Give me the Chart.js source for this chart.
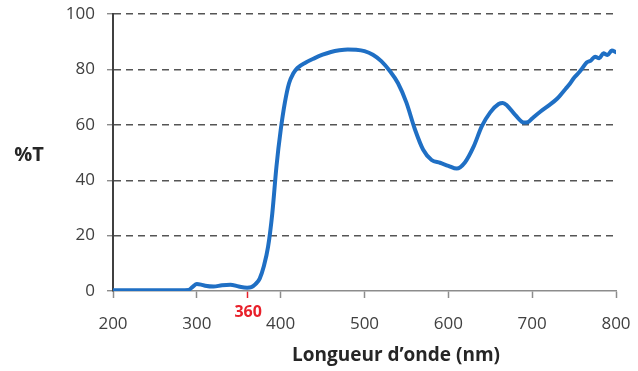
<!DOCTYPE html>
<html>
<head>
<meta charset="utf-8">
<script src="https://cdn.jsdelivr.net/npm/chart.js@4/dist/chart.umd.min.js"></script>
<style>html,body{margin:0;padding:0;background:#fff}</style>
</head>
<body>
<canvas id="myChart" width="638" height="371"></canvas>
<script>
// spectre de transmission
const longueurs = [200,220,240,260,280,290,295,300,305,310,320,330,340,350,360,365,370,375,380,385,390,395,400,405,410,415,420,430,440,450,460,470,480,490,500,510,520,530,540,550,560,570,580,590,600,610,620,630,640,650,660,665,670,680,690,695,700,710,720,730,740,745,750,755,760,765,770,775,780,785,790,795,800];
const transmission = [0.3,0.3,0.3,0.3,0.3,0.4,1.5,2.5,2.3,1.9,1.6,2.1,2.3,1.6,1.2,1.4,2.5,4.5,9,16,28,45,58,68,75,78.5,80.5,82.5,84,85.3,86.3,86.9,87.2,87.1,86.6,85.3,83,79.5,75,68,58.5,51,47.3,46.3,45.2,44.2,46.5,52,59.5,64.5,67.5,67.9,67,63.5,60.8,61,62.3,64.8,67,69.5,73,74.8,77,78.6,80.5,82.5,83.2,84.6,84,85.8,85.2,86.8,86.2];
const ticksX = [200,300,400,500,600,700,800];
const repere = 360;

const textes = {
  id: 'textes',
  afterDraw(chart) {
    const c = chart.ctx;
    const x = chart.scales.x;
    c.save();
    c.fillStyle = '#e8202a';
    c.font = 'bold 16px "Open Sans"';
    c.textAlign = 'center';
    c.textBaseline = 'middle';
    c.fillText(String(repere), x.getPixelForValue(repere) + 1, 312);
    c.fillStyle = '#262626';
    c.font = 'bold 20px "Open Sans"';
    c.fillText('%T', 29, 155);
    c.font = 'bold 19px "Open Sans"';
    c.fillText('Longueur d\u2019onde (nm)', 396, 356);
    c.restore();
  }
};

const ctx = document.getElementById('myChart');
const spectre = new Chart(ctx, {
  type: 'line',
  data: {
    datasets: [{
      data: longueurs.map((l, i) => ({x: l, y: transmission[i]})),
      borderColor: '#1f6fc4',
      borderWidth: 4,
      pointRadius: 0,
      cubicInterpolationMode: 'monotone',
      borderJoinStyle: 'round',
      borderCapStyle: 'round'
    }]
  },
  options: {
    responsive: false,
    animation: false,
    devicePixelRatio: 1,
    layout: {padding: {top: 14, right: 22, left: 0, bottom: 0}},
    plugins: {legend: {display: false}, tooltip: {enabled: false}},
    scales: {
      x: {
        type: 'linear',
        min: 200,
        max: 800,
        afterFit: s => { s.height = 80; s.paddingLeft = 0; s.paddingRight = 0; },
        afterBuildTicks: s => {
          s.ticks = ticksX.concat([repere]).sort((a, b) => a - b).map(v => ({value: v}));
        },
        grid: {
          drawOnChartArea: false,
          tickLength: 7,
          tickWidth: 1.5,
          tickColor: c => (c.tick && c.tick.value === repere) ? '#e8202a' : '#8c8c8c'
        },
        border: {color: '#8c8c8c', width: 1.5},
        ticks: {
          autoSkip: false,
          maxRotation: 0,
          padding: 16,
          color: '#404040',
          font: {family: 'Open Sans', size: 17},
          callback: v => v === repere ? '' : v
        }
      },
      y: {
        min: 0,
        max: 100,
        afterFit: s => { s.width = 113; s.paddingTop = 0; s.paddingBottom = 0; },
        ticks: {
          stepSize: 20,
          padding: 12,
          color: '#404040',
          font: {family: 'Open Sans', size: 17}
        },
        grid: {
          color: c => (c.tick && c.tick.value === 0) ? 'rgba(0,0,0,0)' : '#555555',
          lineWidth: 1.4,
          tickLength: 6,
          tickColor: '#8c8c8c',
          tickBorderDash: []
        },
        border: {color: '#404040', width: 2, dash: [7, 5]}
      }
    }
  },
  plugins: [textes]
});
</script>
</body>
</html>
